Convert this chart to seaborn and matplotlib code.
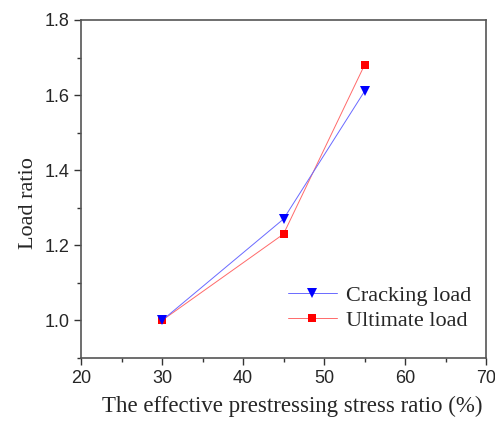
import matplotlib
matplotlib.use("Agg")
import matplotlib.pyplot as plt
import seaborn as sns
import pandas as pd
from matplotlib.ticker import MultipleLocator
from matplotlib.lines import Line2D

ratio = [30, 45, 55]
cracking = [1.00, 1.27, 1.61]
ultimate = [1.00, 1.23, 1.68]
series_names = ["Cracking load", "Ultimate load"]

df = pd.DataFrame({
    "x": ratio * 2,
    "y": cracking + ultimate,
    "series": [series_names[0]] * 3 + [series_names[1]] * 3,
})

colors = {series_names[0]: "#0000ff", series_names[1]: "#ff0000"}
line_colors = {series_names[0]: "#6a6aff", series_names[1]: "#ff6a6a"}
markers = {series_names[0]: "v", series_names[1]: "s"}
msize = {series_names[0]: 6.5, series_names[1]: 5.2}

sns.set_style("ticks")
fig = plt.figure(figsize=(4.95, 4.22), dpi=100)
ax = fig.add_axes([81/495, 64/422, 405/495, 338/422])

# draw ultimate first so cracking markers sit on top
for name, z in [(series_names[1], 2), (series_names[0], 3)]:
    sub = df[df["series"] == name]
    sns.lineplot(data=sub, x="x", y="y", color=line_colors[name], marker=markers[name],
                 markerfacecolor=colors[name], markeredgecolor=colors[name],
                 linewidth=0.7, markersize=msize[name], markeredgewidth=0,
                 ax=ax, zorder=z)

ax.set_xlim(20, 70)
ax.set_ylim(0.9, 1.8)
ax.xaxis.set_major_locator(MultipleLocator(10))
ax.xaxis.set_minor_locator(MultipleLocator(5))
ax.set_yticks([1.0, 1.2, 1.4, 1.6, 1.8])
ax.yaxis.set_minor_locator(MultipleLocator(0.1))
ax.tick_params(which="both", direction="out", top=False, right=False, color="#333333")
ax.tick_params(which="major", length=5, width=1.0, labelsize=13)
ax.tick_params(which="minor", length=3, width=1.0)
for lab in ax.get_xticklabels() + ax.get_yticklabels():
    lab.set_fontfamily("Liberation Sans")
for s in ax.spines.values():
    s.set_visible(True)
    s.set_color("#555555")
    s.set_linewidth(1.2)

ax.set_xlabel("The effective prestressing stress ratio (%)", fontfamily="Liberation Serif", fontsize=16.5)
ax.set_ylabel("Load ratio", fontfamily="Liberation Serif", fontsize=16)
ax.xaxis.set_label_coords(0.521, -0.112)
ax.yaxis.set_label_coords(-0.107, 0.459)

handles = [Line2D([], [], color=line_colors[n], marker=markers[n], linewidth=0.7,
                  markerfacecolor=colors[n], markeredgecolor=colors[n],
                  markersize=msize[n], markeredgewidth=0) for n in series_names]
leg = ax.legend(handles, series_names, loc="lower right", bbox_to_anchor=(1.012, 0.02),
                frameon=False, prop={"family": "Liberation Serif", "size": 16},
                handlelength=2.2, handletextpad=0.4, labelspacing=0.2)

fig.savefig("out.png", dpi=100)
